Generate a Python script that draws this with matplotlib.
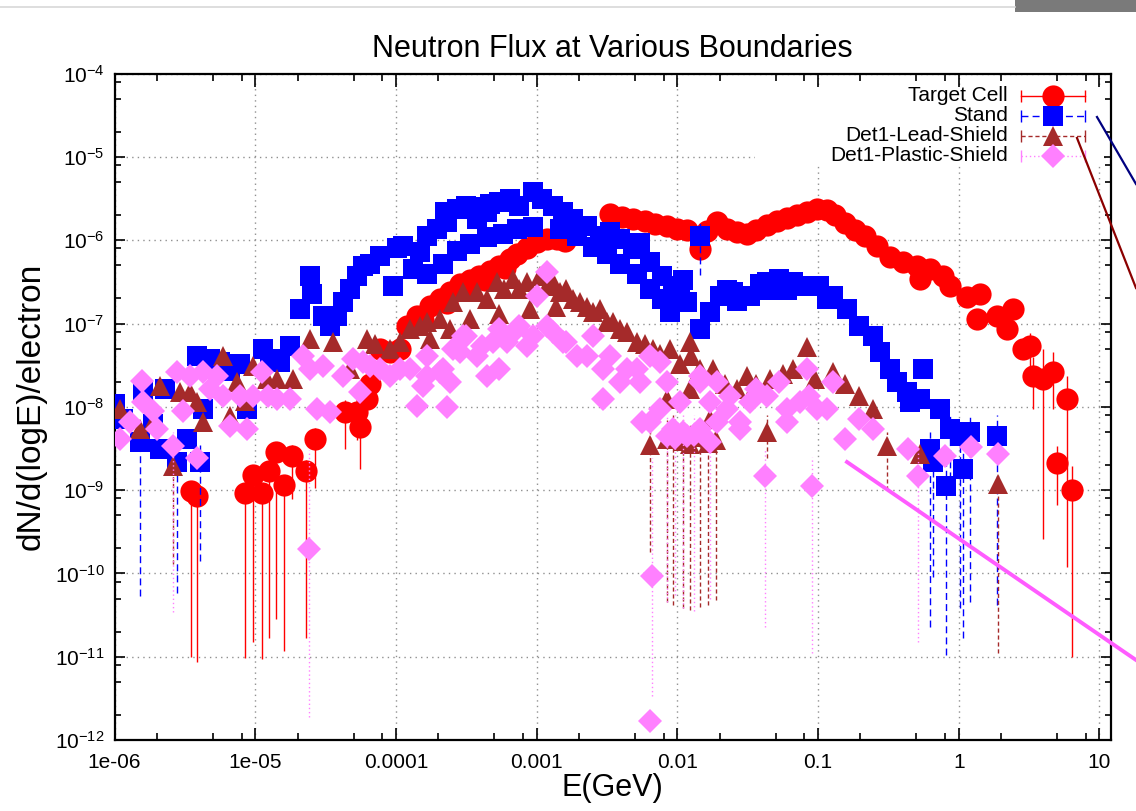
import matplotlib
matplotlib.use("Agg")
import matplotlib.pyplot as plt
from matplotlib.lines import Line2D
from matplotlib.patches import Rectangle
from matplotlib.ticker import LogLocator, NullFormatter

plt.rcParams['font.family'] = ['Liberation Sans', 'DejaVu Sans']
plt.rcParams['mathtext.fontset'] = 'custom'
plt.rcParams['mathtext.rm'] = 'Liberation Sans'

# Target Cell: points without / with visible error bars (E in GeV, flux per electron)
target_e = [6.24e-5, 6.54e-5, 7.65e-5, 9.02e-5, 1.07e-4, 1.2e-4, 1.41e-4, 1.74e-4, 2.06e-4, 2.42e-4,
            2.84e-4, 3.34e-4, 3.91e-4, 4.63e-4, 5.41e-4, 6.43e-4, 7.23e-4, 8.52e-4, 1.0e-3, 1.18e-3,
            1.4e-3, 1.59e-3,
            3.32e-3, 4.02e-3, 4.83e-3, 5.87e-3, 6.9e-3, 8.38e-3, 1.0e-2, 1.18e-2, 1.45e-2, 1.63e-2,
            1.9e-2, 2.24e-2, 2.64e-2, 3.11e-2, 3.65e-2, 4.31e-2, 5.09e-2, 5.98e-2, 7.05e-2, 8.33e-2,
            9.8e-2, 0.115, 0.131, 0.155, 0.183, 0.214, 0.261, 0.324, 0.4, 0.505, 0.53, 0.622, 0.77,
            0.863, 1.14, 1.34, 1.42, 1.87, 2.2, 2.43, 2.86,
            1.55e-4, 2.3e-4, 3.1e-4, 4.3e-4, 6.0e-4]
target_f = [1.24e-8, 1.9e-8, 5.0e-8, 4.6e-8, 5.0e-8, 9.4e-8, 1.23e-7, 1.63e-7, 1.98e-7, 2.4e-7,
            3.0e-7, 3.3e-7, 3.7e-7, 4.3e-7, 4.9e-7, 6.0e-7, 6.9e-7, 8.1e-7, 9.6e-7, 1.04e-6,
            1.04e-6, 9.8e-7,
            2.08e-6, 1.9e-6, 1.8e-6, 1.7e-6, 1.57e-6, 1.49e-6, 1.37e-6, 1.33e-6, 7.9e-7, 1.3e-6,
            1.66e-6, 1.37e-6, 1.26e-6, 1.19e-6, 1.33e-6, 1.53e-6, 1.71e-6, 1.86e-6, 2.02e-6, 2.19e-6,
            2.38e-6, 2.32e-6, 2.02e-6, 1.62e-6, 1.33e-6, 1.13e-6, 8.6e-7, 6.3e-7, 5.5e-7, 4.9e-7, 3.4e-7,
            4.5e-7, 3.7e-7, 2.8e-7, 2.09e-7, 1.14e-7, 2.27e-7, 1.23e-7, 8.6e-8, 1.5e-7, 5.0e-8,
            1.1e-7, 1.75e-7, 2.5e-7, 3.3e-7, 4.6e-7]
target_bar_e = [3.47e-6, 3.88e-6, 8.44e-6, 9.67e-6, 1.11e-5, 1.26e-5, 1.4e-5, 1.6e-5, 1.82e-5, 2.28e-5,
                2.66e-5, 4.36e-5, 5.29e-5, 5.54e-5, 3.21, 3.38, 3.98, 4.69, 4.99, 5.88, 6.37]
target_bar_f = [9.7e-10, 8.5e-10, 9.2e-10, 1.5e-9, 9.2e-10, 1.7e-9, 2.9e-9, 1.15e-9, 2.6e-9, 1.7e-9,
                4.1e-9, 8.7e-9, 8.7e-9, 5.7e-9, 5.4e-8, 2.35e-8, 2.16e-8, 2.6e-8, 2.1e-9, 1.24e-8, 1.0e-9]
target_bar_lo = [9.8e-12, 8.6e-12, 9.6e-12, 1.5e-11, 9.3e-12, 1.66e-11, 2.8e-11, 1.16e-11, 7.8e-10, 1.66e-11,
                 1.05e-9, 3.1e-9, 4e-9, 1.8e-9, 2.85e-8, 9.5e-9, 2.6e-10, 9.4e-9, 6.6e-10, 1.19e-10, 9.8e-12]
target_bar_hi = [1.3e-9, 1.1e-9, 1.2e-9, 2.0e-9, 1.2e-9, 2.3e-9, 3.8e-9, 1.5e-9, 3.5e-9, 2.3e-9,
                 5.5e-9, 1.2e-8, 1.2e-8, 8e-9, 7.7e-8, 4.0e-8, 5.0e-8, 4.5e-8, 3.4e-9, 2.35e-8, 1.94e-9]

# Stand
stand_e = [1.01e-6, 1.15e-6, 1.59e-6, 1.88e-6, 2.1e-6, 2.29e-6, 3.26e-6, 3.88e-6, 4.29e-6, 4.78e-6,
           5.63e-6, 6.63e-6, 7.81e-6, 8.75e-6, 1.13e-5, 1.28e-5, 1.5e-5, 1.76e-5, 2.07e-5, 2.45e-5,
           2.53e-5, 3.03e-5, 3.4e-5, 3.81e-5, 4.22e-5, 4.7e-5, 5.33e-5, 5.86e-5, 6.54e-5, 7.7e-5,
           9.55e-5, 1.01e-4, 1.13e-4, 1.33e-4, 1.49e-4, 1.66e-4, 1.66e-4, 1.95e-4, 2.15e-4, 2.22e-4,
           2.3e-4, 2.71e-4, 2.71e-4, 3.17e-4, 3.34e-4, 3.74e-4, 3.91e-4, 4.42e-4, 4.42e-4, 4.66e-4,
           5.41e-4, 5.73e-4, 6.43e-4, 7.23e-4, 7.55e-4, 9.37e-4, 9.37e-4, 1.1e-3, 1.31e-3, 1.46e-3,
           1.54e-3, 1.81e-3, 1.94e-3, 2.27e-3, 2.51e-3, 2.81e-3, 3.16e-3, 3.32e-3, 3.91e-3, 3.91e-3,
           4.83e-3, 5.15e-3, 5.41e-3, 6.37e-3, 6.37e-3, 7.84e-3, 7.84e-3, 8.82e-3, 9.26e-3, 1.04e-2,
           1.1e-2, 1.17e-2, 1.45e-2, 1.7e-2, 2.0e-2, 2.24e-2, 2.47e-2, 2.64e-2, 3.26e-2, 3.84e-2,
           4.31e-2, 4.31e-2, 5.31e-2, 5.98e-2, 6.6e-2, 8.33e-2, 0.102, 0.115, 0.127, 0.16,
           0.197, 0.245, 0.275, 0.324, 0.362, 0.427, 0.449, 0.53, 0.556, 0.734]
stand_f = [1.08e-8, 7.1e-9, 1.5e-8, 6.2e-9, 3.1e-9, 1.64e-8, 4.1e-9, 4.1e-8, 9.4e-9, 3.75e-8,
           3.45e-8, 2.7e-8, 3.3e-8, 9.4e-9, 5.0e-8, 3.75e-8, 3.45e-8, 5.4e-8, 1.5e-7, 3.7e-7,
           2.27e-7, 1.23e-7, 9.4e-8, 1.23e-7, 1.82e-7, 2.6e-7, 3.7e-7, 4.9e-7, 5.2e-7, 6.5e-7,
           2.8e-7, 8.0e-7, 8.6e-7, 4.5e-7, 7.3e-7, 1.13e-6, 3.95e-7, 1.37e-6, 5.2e-7, 2.2e-6,
           1.66e-6, 2.4e-6, 7.4e-7, 2.6e-6, 9.1e-7, 1.8e-6, 2.5e-6, 2.2e-6, 1.1e-6, 2.75e-6,
           2.9e-6, 1.19e-6, 3.15e-6, 1.37e-6, 2.6e-6, 3.8e-6, 1.45e-6, 3.15e-6, 2.6e-6, 1.37e-6,
           2.2e-6, 1.8e-6, 1.13e-6, 1.49e-6, 8.3e-7, 1.13e-6, 6.9e-7, 1.26e-6, 1.04e-6, 5.2e-7,
           7.9e-7, 3.95e-7, 9.2e-7, 5.5e-7, 2.6e-7, 3.7e-7, 1.98e-7, 1.38e-7, 2.8e-7, 2.15e-7,
           3.3e-7, 1.82e-7, 8.6e-8, 1.38e-7, 2.15e-7, 2.5e-7, 2.4e-7, 1.87e-7, 2.15e-7, 3.0e-7,
           3.16e-7, 2.5e-7, 3.4e-7, 2.5e-7, 3.16e-7, 2.8e-7, 2.8e-7, 1.98e-7, 2.15e-7, 1.5e-7,
           9.4e-8, 7.1e-8, 4.6e-8, 2.85e-8, 1.99e-8, 1.5e-8, 1.14e-8, 1.24e-8, 2.85e-8, 9.4e-9]
stand_bar_e = [1.52e-6, 2.79e-6, 4.06e-6, 1.46e-2, 0.622, 0.655, 0.818, 0.866, 1.015, 1.073, 1.2, 1.87]
stand_bar_f = [3.8e-9, 2.2e-9, 2.2e-9, 1.13e-6, 3.1e-9, 2.2e-9, 1.12e-9, 5.4e-9, 4.46e-9, 1.8e-9, 5.0e-9, 4.46e-9]
stand_bar_lo = [5.3e-11, 5.8e-11, 1.4e-10, 3.8e-7, 2.25e-11, 9e-11, 1.04e-11, 1e-9, 3.8e-11, 1.7e-11, 4.5e-11, 4.2e-11]
stand_bar_hi = [6e-9, 3.5e-9, 3.5e-9, 1.65e-6, 5e-9, 4e-9, 2e-9, 8e-9, 7e-9, 3e-9, 8e-9, 8e-9]

# Det1-Lead-Shield
lead_e = [1.09e-6, 1.52e-6, 1.88e-6, 2.1e-6, 2.92e-6, 3.44e-6, 3.86e-6, 4.26e-6, 5.91e-6, 6.63e-6,
          7.4e-6, 8.44e-6, 9.67e-6, 1.21e-5, 1.42e-5, 1.86e-5, 2.45e-5, 3.57e-5, 4.7e-5, 6.24e-5,
          7.12e-5, 9.02e-5, 1.07e-4, 1.25e-4, 1.49e-4, 1.66e-4, 2.06e-4, 2.54e-4, 2.98e-4, 3.74e-4,
          4.42e-4, 5.2e-4, 5.91e-4, 6.74e-4, 7.55e-4, 8.52e-4, 1.05e-3, 1.18e-3, 1.31e-3, 1.46e-3,
          1.63e-3, 1.81e-3, 2.02e-3, 2.27e-3, 2.51e-3, 2.81e-3, 3.16e-3, 3.47e-3, 3.91e-3, 4.39e-3,
          5.15e-3, 5.87e-3, 6.69e-3, 7.51e-3, 8.82e-3, 1.04e-2, 1.23e-2, 1.26e-2, 1.45e-2, 1.79e-2,
          2.17e-2, 2.64e-2, 3.11e-2, 3.65e-2, 4.53e-2, 5.6e-2, 6.6e-2, 8.33e-2, 9.46e-2, 0.127,
          0.155, 0.197, 0.245, 0.53,
          1.74e-4, 2.42e-4, 3.34e-4, 5.41e-4, 8.95e-4, 1.37e-3, 8.38e-3, 1.23e-2, 1.7e-2]
lead_f = [9.4e-9, 5.4e-9, 6.6e-9, 1.78e-8, 1.5e-8, 1.5e-8, 1.14e-8, 6.6e-9, 4.1e-8, 7.7e-9,
          1.99e-8, 1.17e-8, 3.1e-8, 2.16e-8, 2.16e-8, 2.16e-8, 6.5e-8, 6.0e-8, 2.85e-8, 6.5e-8,
          5.7e-8, 5.0e-8, 6.0e-8, 8.6e-8, 9.4e-8, 1.05e-7, 1.14e-7, 1.82e-7, 2.4e-7, 2.4e-7,
          1.98e-7, 3.16e-7, 2.6e-7, 3.4e-7, 2.6e-7, 3.16e-7, 3.7e-7, 2.8e-7, 3.16e-7, 2.4e-7,
          2.6e-7, 1.98e-7, 1.82e-7, 1.58e-7, 1.38e-7, 1.5e-7, 1.05e-7, 1.05e-7, 8.6e-8, 7.9e-8,
          6.0e-8, 5.7e-8, 5.0e-8, 4.3e-8, 5.0e-8, 3.3e-8, 6.0e-8, 4.1e-8, 2.85e-8, 2.85e-8,
          1.88e-8, 1.64e-8, 2.35e-8, 1.88e-8, 2.16e-8, 2.5e-8, 2.85e-8, 5.2e-8, 2.16e-8, 2.6e-8,
          1.88e-8, 1.35e-8, 9.4e-9, 2.7e-9,
          6.5e-8, 8.6e-8, 1.14e-7, 1.3e-7, 1.5e-7, 1.6e-7, 1.24e-8, 1.64e-8, 7.1e-9]
lead_bar_e = [2.61e-6, 6.42e-3, 8.49e-3, 9.37e-3, 1.1e-2, 1.23e-2, 1.45e-2, 1.65e-2, 1.87e-2, 4.31e-2, 0.309, 1.89]
lead_bar_f = [1.94e-9, 3.5e-9, 4.1e-9, 4.5e-9, 3.9e-9, 3.6e-9, 4.3e-9, 3.7e-9, 4.0e-9, 5.0e-9, 3.4e-9, 1.18e-9]
lead_bar_lo = [1.3e-10, 1.8e-10, 4.5e-11, 4.2e-11, 3.9e-11, 3.6e-11, 4.0e-11, 4.2e-11, 4.8e-11, 2.4e-9, 1.0e-9, 1.1e-11]
lead_bar_hi = [3.0e-9, 6e-9, 7e-9, 8e-9, 7e-9, 6e-9, 7e-9, 6e-9, 7e-9, 8e-9, 5.0e-9, 1.6e-9]

# Det1-Plastic-Shield
plastic_e = [1.09e-6, 1.29e-6, 1.57e-6, 1.59e-6, 1.88e-6, 2.01e-6, 2.79e-6, 3.06e-6, 3.44e-6, 3.86e-6,
             4.26e-6, 4.78e-6, 5.32e-6, 5.91e-6, 6.63e-6, 7.81e-6, 8.75e-6, 9.67e-6, 1.11e-5, 1.23e-5,
             1.42e-5, 1.76e-5, 2.18e-5, 2.45e-5, 2.75e-5, 3.03e-5, 3.4e-5, 4.22e-5, 4.96e-5, 5.54e-5,
             5.86e-5, 7.7e-5, 1.07e-4, 1.41e-4, 1.55e-4, 2.06e-4, 2.3e-4, 2.84e-4, 3.17e-4, 4.12e-4,
             5.41e-4, 7.55e-4, 9.37e-4, 1.0e-3, 1.18e-3, 1.31e-3, 1.63e-3, 2.27e-3, 2.95e-3, 2.97e-3,
             3.91e-3, 5.15e-3, 5.65e-3, 6.37e-3, 6.42e-3, 7.51e-3, 1.45e-2, 1.9e-2, 2.35e-2, 2.77e-2,
             3.65e-2, 5.98e-2, 8.33e-2, 8.67e-2, 0.115, 0.127, 0.155, 0.197, 0.245, 0.435,
             0.797, 1.23, 1.89,
             6.54e-5, 9.02e-5, 1.25e-4, 1.66e-4, 2.15e-4, 2.54e-4, 2.98e-4, 3.74e-4, 4.87e-4, 6.13e-4,
             7.23e-4, 8.52e-4, 1.18e-3, 1.54e-3, 1.94e-3, 2.51e-3, 5.41e-4, 4.42e-4, 2.42e-4, 1.66e-4,
             3.32e-3, 4.39e-3, 5.41e-3, 8.38e-3, 1.04e-2, 7.51e-3, 6.37e-3, 9.26e-3, 1.17e-2, 1.45e-2,
             1.7e-2, 1.45e-2, 1.9e-2, 2.24e-2, 2.77e-2, 3.26e-2, 4.31e-2, 5.31e-2, 5.98e-2, 7.4e-2, 9.8e-2]
plastic_f = [4.1e-9, 6.6e-9, 2.04e-8, 1.14e-8, 8.9e-9, 5.4e-9, 2.6e-8, 8.9e-9, 2.35e-8, 2.4e-9,
             2.6e-8, 1.64e-8, 2.35e-8, 1.35e-8, 5.9e-9, 1.35e-8, 5.4e-9, 1.35e-8, 2.6e-8, 1.35e-8,
             1.24e-8, 1.24e-8, 4.1e-8, 2.85e-8, 9.4e-9, 3.1e-8, 8.7e-9, 2.35e-8, 3.75e-8, 1.5e-8,
             3.45e-8, 2.85e-8, 2.85e-8, 1.02e-8, 1.78e-8, 2.6e-8, 1.0e-8, 4.6e-8, 7.1e-8, 5.4e-8,
             8.6e-8, 9.4e-8, 7.1e-8, 2.15e-7, 4.2e-7, 7.9e-8, 6.0e-8, 4.1e-8, 2.85e-8, 1.24e-8,
             2.0e-8, 2.85e-8, 6.6e-9, 4.1e-8, 1.7e-12, 3.45e-8, 2.35e-8, 6.6e-9, 1.35e-8, 5.4e-9,
             1.64e-8, 6.6e-9, 2.85e-8, 1.35e-8, 9.4e-9, 2.0e-8, 4.1e-9, 7.1e-9, 5.4e-9, 3.1e-9,
             2.6e-9, 3.3e-9, 2.7e-9,
             3.1e-8, 2.35e-8, 2.85e-8, 4.1e-8, 2.85e-8, 5.0e-8, 7.1e-8, 4.1e-8, 6.0e-8, 6.0e-8,
             8.6e-8, 5.4e-8, 9.4e-8, 6.0e-8, 4.1e-8, 7.1e-8, 2.85e-8, 2.35e-8, 1.99e-8, 2.35e-8,
             4.1e-8, 2.85e-8, 1.99e-8, 1.99e-8, 1.14e-8, 9.4e-9, 6.6e-9, 5.4e-9, 4.46e-9, 5.4e-9,
             1.14e-8, 1.99e-8, 1.99e-8, 9.4e-9, 6.6e-9, 1.14e-8, 1.35e-8, 1.99e-8, 9.4e-9, 1.14e-8, 9.4e-9]
plastic_bar_e = [2.61e-6, 2.41e-5, 4.18e-2, 9.11e-2, 0.513, 6.58e-3, 8.38e-3, 1.1e-2, 1.7e-2, 1.32e-2, 9.7e-3]
plastic_bar_f = [3.4e-9, 1.95e-10, 1.47e-9, 1.12e-9, 1.47e-9, 9.3e-11, 4.46e-9, 5.0e-9, 3.8e-9, 4.6e-9, 4.2e-9]
plastic_bar_lo = [3.4e-11, 1.9e-12, 2.3e-11, 1.1e-11, 1.5e-11, 3.4e-12, 4.5e-11, 3.9e-11, 5.0e-11, 3.5e-11, 5.5e-11]
plastic_bar_hi = [5e-9, 3e-9, 3e-9, 2.5e-9, 3e-9, 2.4e-9, 8e-9, 8e-9, 7e-9, 8e-9, 8e-9]

labels = ['Target Cell', 'Stand', 'Det1-Lead-Shield', 'Det1-Plastic-Shield']
x_ticks = [1e-6, 1e-5, 1e-4, 1e-3, 1e-2, 1e-1, 1, 10]
x_tick_labels = ['1e-06', '1e-05', '0.0001', '0.001', '0.01', '0.1', '1', '10']

fig = plt.figure(figsize=(11.36, 8.11), dpi=100)
ax = fig.add_axes([0.1008, 0.0875, 0.8768, 0.8217])
ax.set_xscale('log')
ax.set_yscale('log')
ax.set_xlim(1e-6, 12)
ax.set_ylim(1e-12, 1e-4)


def draw(e, f, be, bf, blo, bhi, color, marker, ms, dash, z):
    ax.plot(e, f, linestyle='none', marker=marker, ms=ms, color=color, mew=0, zorder=z)
    lower = [y - l for y, l in zip(bf, blo)]
    upper = [h - y for y, h in zip(bf, bhi)]
    cont = ax.errorbar(be, bf, yerr=[lower, upper], fmt=marker, ms=ms, color=color, mew=0,
                       ecolor=color, elinewidth=1.0, capsize=7, capthick=1.0, zorder=z)
    cont[2][0].set_linestyle(dash)


series = [
    (target_e, target_f, target_bar_e, target_bar_f, target_bar_lo, target_bar_hi, '#ff0000', 'o', 16, '-'),
    (stand_e, stand_f, stand_bar_e, stand_bar_f, stand_bar_lo, stand_bar_hi, '#0000ff', 's', 15, (0, (5, 3))),
    (lead_e, lead_f, lead_bar_e, lead_bar_f, lead_bar_lo, lead_bar_hi, '#a52a2a', '^', 15, (0, (3, 2))),
    (plastic_e, plastic_f, plastic_bar_e, plastic_bar_f, plastic_bar_lo, plastic_bar_hi, '#ff80ff', 'D', 12.5, (0, (1, 2))),
]
for i, s in enumerate(series):
    draw(*s, z=3 + i)

# axes styling (gnuplot look)
ax.set_axisbelow(True)
ax.grid(True, which='major', color='#909090', linestyle=(0, (1, 3)), linewidth=1.0)
ax.set_xticks(x_ticks)
ax.set_xticklabels(x_tick_labels)
ax.xaxis.set_minor_locator(LogLocator(base=10, subs=(2, 5, 8), numticks=20))
ax.xaxis.set_minor_formatter(NullFormatter())
ax.yaxis.set_major_locator(LogLocator(base=10, numticks=20))
ax.yaxis.set_minor_locator(LogLocator(base=10, subs=(2, 5, 8), numticks=20))
ax.yaxis.set_minor_formatter(NullFormatter())
ax.tick_params(axis='both', which='both', direction='in', top=True, right=True, width=1.2)
ax.tick_params(axis='x', which='major', length=9, labelsize=15, pad=9)
ax.tick_params(axis='x', which='minor', length=5)
ax.tick_params(axis='y', which='major', length=7, labelsize=15, pad=7)
ax.tick_params(axis='y', which='minor', length=4)
for sp in ax.spines.values():
    sp.set_linewidth(1.6)

ax.set_title('Neutron Flux at Various Boundaries', fontsize=22, pad=12)
ax.set_xlabel('E(GeV)', fontsize=22, labelpad=1)
ax.set_ylabel('dN/d(logE)/electron', fontsize=24, labelpad=6)

# key box (gnuplot style: text right aligned, sample on the right)
ax.add_patch(Rectangle((0.643, 0.861), 0.35, 0.118, transform=ax.transAxes,
                       facecolor='white', edgecolor='none', zorder=1))
for i, (lab, s) in enumerate(zip(labels, series)):
    color, marker, ms, dash = s[6], s[7], s[8], s[9]
    ya = 0.967 - 0.030 * i
    ax.text(0.897, ya, lab, transform=ax.transAxes, ha='right', va='center', fontsize=15, zorder=10)
    ax.plot([0.910, 0.974], [ya, ya], transform=ax.transAxes, color=color, lw=1.0,
            linestyle=dash, clip_on=False, zorder=10)
    ax.plot([0.910, 0.974], [ya, ya], transform=ax.transAxes, color=color, lw=0,
            marker='|', ms=9, mew=1.0, clip_on=False, zorder=10)
    ax.plot([0.942], [ya], transform=ax.transAxes, color=color, marker=marker, ms=ms,
            mew=0, clip_on=False, zorder=11)

# annotation strokes that run off the right edge of the screenshot
fig.add_artist(Line2D([1097 / 1136, 1.0], [1 - 117 / 811, 1 - 184 / 811], color='#000080', lw=1.6))
fig.add_artist(Line2D([1077 / 1136, 1.0], [1 - 138 / 811, 1 - 288 / 811], color='#8b0000', lw=1.6))
fig.add_artist(Line2D([847 / 1136, 1.0], [1 - 462 / 811, 1 - 660 / 811], color='#ff5cff', lw=2.8))
fig.add_artist(Line2D([0, 1015 / 1136], [1 - 7 / 811, 1 - 7 / 811], color='#d8d8d8', lw=1.2))
fig.add_artist(Rectangle((1015 / 1136, 1 - 12 / 811), 121 / 1136, 12 / 811,
                         transform=fig.transFigure, facecolor='#7a7a7a', edgecolor='none'))

fig.savefig('out.png', dpi=100)
